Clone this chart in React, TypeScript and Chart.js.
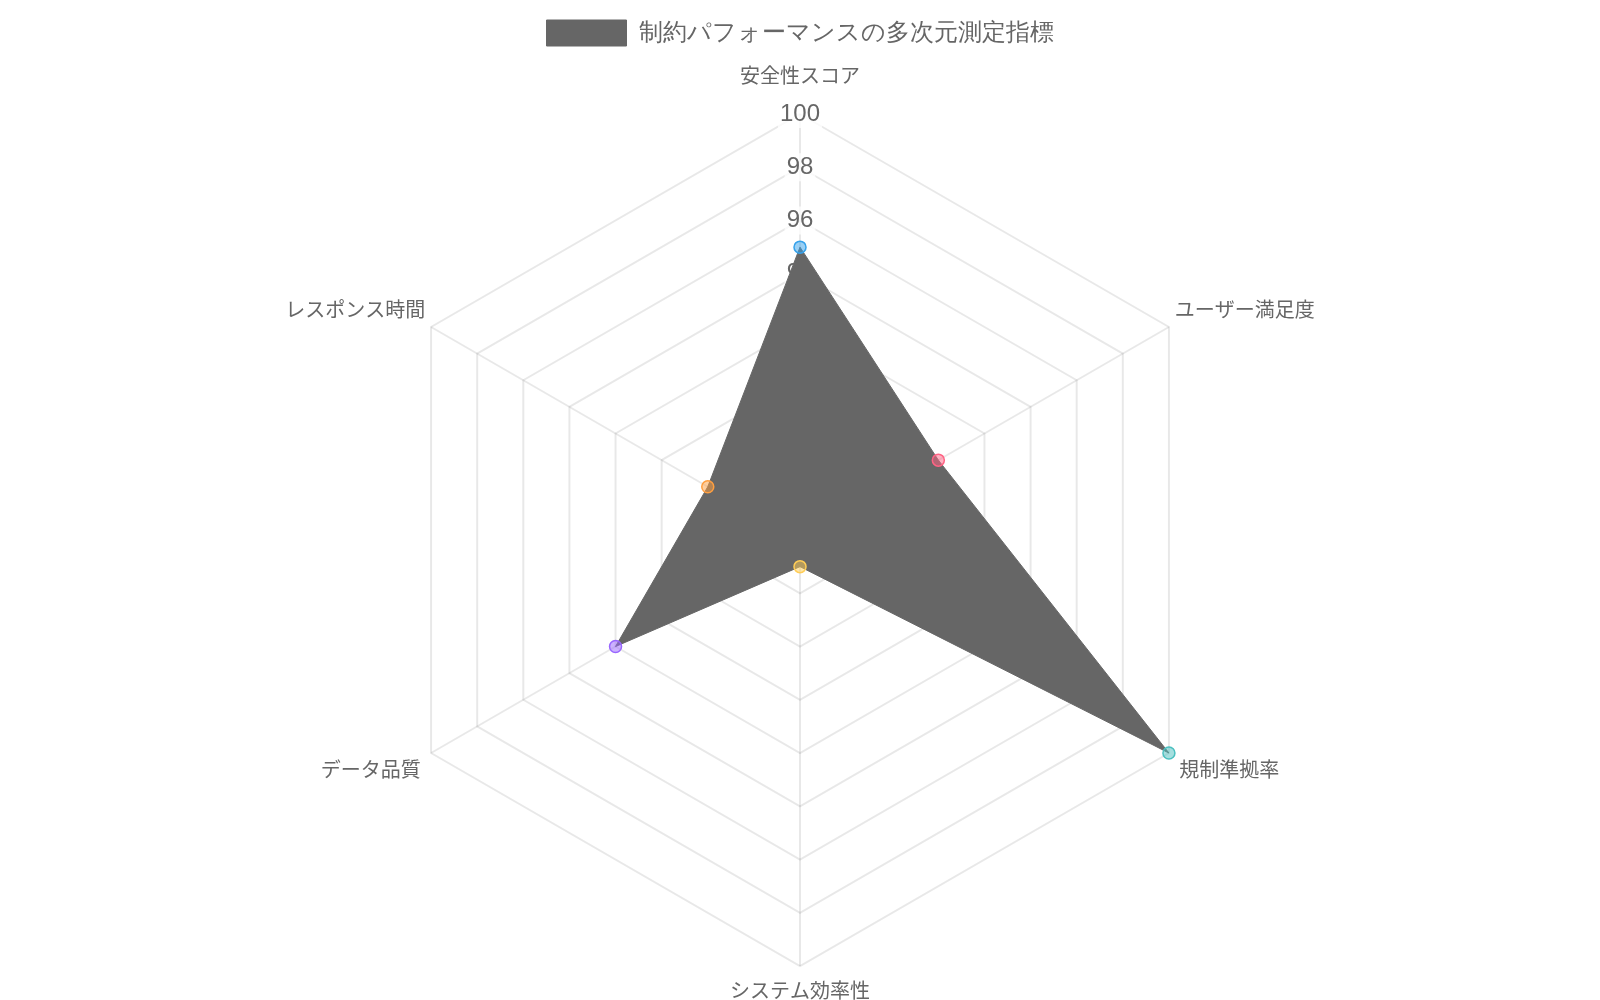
import React, { useEffect, useRef } from "react";
import { Chart, registerables } from "chart.js";

Chart.register(...registerables);

const categories = ["安全性スコア", "ユーザー満足度", "規制準拠率", "システム効率性", "データ品質", "レスポンス時間"];
const seriesLabel = "制約パフォーマンスの多次元測定指標";
const seriesValues = [95, 90, 100, 85, 92, 88];
const pointBorderColors = ["#36a2eb", "#ff6384", "#4bc0c0", "#ffcd56", "#9966ff", "#ff9f40"];
const pointFillColors = [
  "rgba(54,162,235,0.5)",
  "rgba(255,99,132,0.5)",
  "rgba(75,192,192,0.5)",
  "rgba(255,205,86,0.5)",
  "rgba(153,102,255,0.5)",
  "rgba(255,159,64,0.5)",
];
const scaleMin = 84;
const scaleMax = 100;
const scaleStep = 2;
const labelPaddings = [11, -7.4, -2, 0.6, -2, -7.4];

const legendSpacer = {
  id: "legendSpacer",
  beforeInit(chart: any) {
    const legend = chart.legend;
    if (!legend) return;
    const originalFit = legend.fit;
    legend.fit = function fit() {
      originalFit.call(this);
      this.height += 4;
    };
  },
};

export default function App() {
  const ref = useRef<HTMLCanvasElement>(null);
  useEffect(() => {
    const prevOverflow = document.body.style.overflow;
    document.body.style.overflow = "hidden";
    if (!ref.current) return;
    const chart = new Chart(ref.current, {
      type: "radar",
      data: {
        labels: categories,
        datasets: [
          {
            label: seriesLabel,
            data: seriesValues,
            backgroundColor: "#666666",
            borderColor: "#666666",
            borderWidth: 1,
            pointBackgroundColor: pointFillColors,
            pointBorderColor: pointBorderColors,
            pointBorderWidth: 1.5,
            pointRadius: 6,
          },
        ],
      },
      options: {
        responsive: true,
        maintainAspectRatio: false,
        animation: false,
        font: { family: "'Helvetica Neue', 'Helvetica', 'Arial', 'Noto Sans CJK JP', sans-serif" },
        plugins: {
          legend: {
            labels: {
              boxWidth: 80,
              boxHeight: 26,
              padding: 12,
              color: "#666",
              font: { size: 24 },
            },
          },
          tooltip: { enabled: false },
        },
        scales: {
          r: {
            min: scaleMin,
            max: scaleMax,
            ticks: { stepSize: scaleStep, color: "#666", font: { size: 24 } },
            grid: { color: "rgba(0,0,0,0.09)", lineWidth: 2 },
            angleLines: { color: "rgba(0,0,0,0.09)", lineWidth: 2 },
            pointLabels: {
              color: "#666",
              font: { size: 20 },
              padding: (ctx: any) => labelPaddings[ctx.index] ?? 0,
            },
          },
        },
      },
      plugins: [legendSpacer],
    });
    return () => {
      chart.destroy();
      document.body.style.overflow = prevOverflow;
    };
  }, []);
  return (
    <div style={{ width: 1584, height: 1003 }}>
      <canvas ref={ref} />
    </div>
  );
}
